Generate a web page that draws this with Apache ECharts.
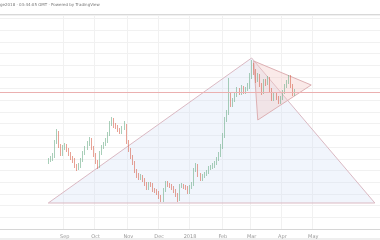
<!DOCTYPE html>
<html>
<head>
<meta charset="utf-8">
<script src="https://cdn.jsdelivr.net/npm/echarts@6/dist/echarts.min.js"></script>
<style>html,body{margin:0;padding:0;background:#fff}#c{width:380px;height:240px}</style>
</head>
<body>
<div id="c"></div>
<script>
// ---- data ----
const headerText = 'ge2018 · 03:44:05 GMT · Powered by TradingView';
const tickLabels = {'2017-09':'Sep','2017-10':'Oct','2017-11':'Nov','2017-12':'Dec','2018-01':'2018','2018-02':'Feb','2018-03':'Mar','2018-04':'Apr','2018-05':'May'};
const firstCandleDate = '2017-08-16';
const opens  = [67,69,70,73,87,96,83,75,81,83,79,75,71,69,63,61,63,69,76,81,85,89,81,74,67,63,76,82,85,88,95,105,109,103,102,99,97,101,103,87,79,72,66,58,53,51,52,49,45,41,45,44,39,38,36,32,29,39,46,44,43,41,38,34,30,43,44,42,41,37,42,45,59,63,54,50,53,55,57,61,62,63,66,70,74,82,93,109,116,134,124,129,134,139,136,141,137,140,142,152,161,157,149,153,144,137,148,146,150,139,130,135,131,127,131,137,143,147,152,143,135];
const closes = [69,70,73,87,96,83,75,81,83,79,75,71,69,63,61,63,69,76,81,85,89,81,74,67,63,76,82,85,88,95,105,109,103,102,99,97,101,103,87,79,72,66,58,53,51,52,49,45,41,45,44,39,38,36,32,29,39,46,44,43,41,38,34,30,43,44,42,41,37,42,45,59,63,54,50,53,55,57,61,62,63,66,70,74,82,93,109,116,134,124,129,134,139,136,141,137,140,142,152,161,157,149,153,144,137,148,146,150,139,130,135,131,127,131,137,143,147,152,143,135,137];
const lows   = [65,67,68,71,85,81,73,73,79,77,73,69,66,61,58,59,61,67,74,79,83,79,72,65,60,61,74,80,83,86,93,103,101,100,97,95,95,99,85,77,70,64,56,51,49,49,47,43,39,39,42,37,36,34,30,27,27,37,42,41,39,36,32,27,28,41,40,39,35,35,40,43,57,52,48,48,51,53,55,59,60,61,64,68,72,80,91,107,114,122,122,127,132,134,134,135,135,138,140,150,154,146,147,142,134,135,143,144,137,128,128,129,125,125,129,135,141,145,141,133,133];
const highs  = [71,73,76,89,100,98,85,84,86,85,81,77,73,71,65,66,71,78,83,88,92,91,83,76,69,78,84,87,91,97,108,112,111,106,104,101,103,108,105,89,81,74,68,60,56,55,54,51,47,47,47,46,41,40,38,34,41,48,48,46,45,43,40,36,45,46,45,44,43,44,47,61,66,65,56,55,57,59,63,64,66,68,72,77,85,96,112,119,151,137,131,136,142,141,144,143,142,146,156,169,166,160,156,155,146,150,150,153,152,141,137,137,133,133,139,145,149,154,154,145,140];
const bigTriangle  = [['2017-08-16',26],['2018-03-02',171],['2018-06-30',26]];
const pinkTriangle = [['2018-03-04',168],['2018-04-29',144],['2018-03-08',109]];
const resistanceLevel = 137;

// ---- axis categories (2-day steps) ----
const categories = [];
const t0 = Date.UTC(2017, 6, 1);
for (let i = 0; i < 185; i++) {
  categories.push(new Date(t0 + i * 2 * 86400000).toISOString().slice(0, 10));
}
const offset = categories.indexOf(firstCandleDate);
const candleData = categories.map((c, i) => {
  const k = i - offset;
  return (k >= 0 && k < closes.length) ? [opens[k], closes[k], lows[k], highs[k]] : '-';
});
function isTick(idx) {
  const m = categories[idx].slice(0, 7);
  if (!tickLabels[m]) return false;
  return idx === 0 || categories[idx - 1].slice(0, 7) !== m;
}
function triSeries(tri, fill, stroke, z) {
  return {
    type: 'custom', z: z, silent: true,
    data: tri.map(v => [categories.indexOf(v[0]), v[1]]),
    renderItem: function (params, api) {
      if (params.dataIndex !== 0) return null;
      const pts = tri.map(v => api.coord([categories.indexOf(v[0]), v[1]]));
      return { type: 'polygon', shape: { points: pts }, style: { fill: fill, stroke: stroke, lineWidth: 1 } };
    }
  };
}

const chart = echarts.init(document.getElementById('c'), null, { renderer: 'canvas' });
chart.setOption({
  animation: false,
  backgroundColor: '#ffffff',
  grid: { left: 0, right: 0, top: 15, bottom: 11 },
  xAxis: {
    type: 'category', data: categories, boundaryGap: true,
    axisLine: { lineStyle: { color: '#d6d6d6' } },
    axisTick: { show: false },
    axisLabel: {
      interval: (idx) => isTick(idx), margin: 5, fontSize: 5, color: '#999', fontFamily: 'DejaVu Sans',
      formatter: (v) => tickLabels[v.slice(0, 7)] || ''
    },
    splitLine: { show: true, interval: (idx) => isTick(idx), lineStyle: { color: '#f1f1f1', width: 1 } }
  },
  yAxis: {
    type: 'value', min: 0, max: 214, interval: 11.7,
    axisLabel: { show: false }, axisLine: { show: false }, axisTick: { show: false },
    splitLine: { lineStyle: { color: '#f1f1f1', width: 1 } }
  },
  series: [
    triSeries(bigTriangle, 'rgba(214,226,246,0.33)', '#dbb9c3', 1),
    triSeries(pinkTriangle, 'rgba(242,200,196,0.38)', '#ddb0b3', 2),
    {
      type: 'candlestick', z: 3, data: candleData, barMaxWidth: 1.5,
      itemStyle: { color: '#6fae89', color0: '#d9644f', borderColor: '#6fae89', borderColor0: '#d9644f', borderWidth: 0.6 },
      markLine: {
        silent: true, symbol: 'none', label: { show: false },
        lineStyle: { color: '#ebb0b0', type: 'solid', width: 1 },
        data: [{ yAxis: resistanceLevel }]
      }
    }
  ],
  graphic: [
    { type: 'text', left: 0, top: 3, style: { text: headerText, fontSize: 4, fill: '#777', fontFamily: 'DejaVu Sans' } },
    { type: 'rect', shape: { x: 0, y: 14, width: 380, height: 2 }, style: { fill: '#d8d8d8' } },
    { type: 'rect', shape: { x: 0, y: 238.5, width: 380, height: 1 }, style: { fill: '#e0e0e0' } }
  ]
});
</script>
</body>
</html>
